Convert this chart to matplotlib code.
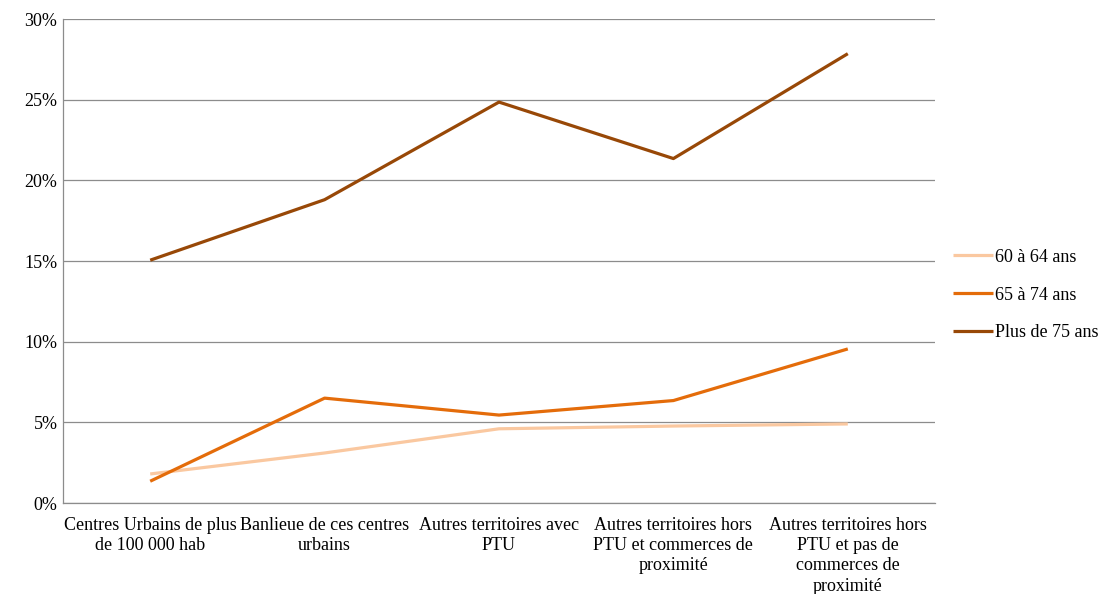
import matplotlib
matplotlib.use("Agg")
import matplotlib.pyplot as plt
from matplotlib.ticker import FuncFormatter

categories = [
    "Centres Urbains de plus\nde 100 000 hab",
    "Banlieue de ces centres\nurbains",
    "Autres territoires avec\nPTU",
    "Autres territoires hors\nPTU et commerces de\nproximité",
    "Autres territoires hors\nPTU et pas de\ncommerces de\nproximité",
]
series_names = ["60 à 64 ans", "65 à 74 ans", "Plus de 75 ans"]
age_60_64 = [1.8, 3.1, 4.6, 4.77, 4.9]
age_65_74 = [1.35, 6.5, 5.45, 6.35, 9.55]
age_75_plus = [15.05, 18.8, 24.85, 21.35, 27.85]
colors = ["#FAC8A0", "#E46C0A", "#984807"]
y_ticks = [0, 5, 10, 15, 20, 25, 30]

plt.rcParams["font.family"] = ["Liberation Serif", "DejaVu Serif"]
FS = 13

fig = plt.figure(figsize=(11.12, 5.94), dpi=100)
ax = fig.add_axes([63 / 1112, 1 - 503 / 594, (935 - 63) / 1112, (503 - 19) / 594])

x = list(range(len(categories)))
for vals, name, col in zip([age_60_64, age_65_74, age_75_plus], series_names, colors):
    ax.plot(x, vals, color=col, lw=2.3, label=name, solid_capstyle="butt")

ax.set_xlim(-0.5, len(categories) - 0.5)
ax.set_ylim(0, 30)
ax.set_yticks(y_ticks)
ax.yaxis.set_major_formatter(FuncFormatter(lambda v, p: f"{int(v)}%"))
ax.grid(axis="y", color="#8C8C8C", lw=0.9)
ax.set_axisbelow(True)
ax.set_xticks(x)
ax.set_xticklabels(categories, fontsize=FS, linespacing=1.25)
ax.tick_params(axis="both", length=0, labelsize=FS, colors="black")
ax.tick_params(axis="x", pad=10)
ax.tick_params(axis="y", pad=4)
for s in ["top", "right"]:
    ax.spines[s].set_visible(False)
for s in ["left", "bottom"]:
    ax.spines[s].set_color("#8C8C8C")
    ax.spines[s].set_linewidth(0.9)

handles, labels = ax.get_legend_handles_labels()
fig.legend(handles, labels, loc="center left", bbox_to_anchor=(953 / 1112, 1 - 295 / 594),
           frameon=False, fontsize=FS, handlelength=2.2, handletextpad=0.15,
           labelspacing=1.15, borderaxespad=0, borderpad=0)

fig.savefig("out.png", dpi=100)
